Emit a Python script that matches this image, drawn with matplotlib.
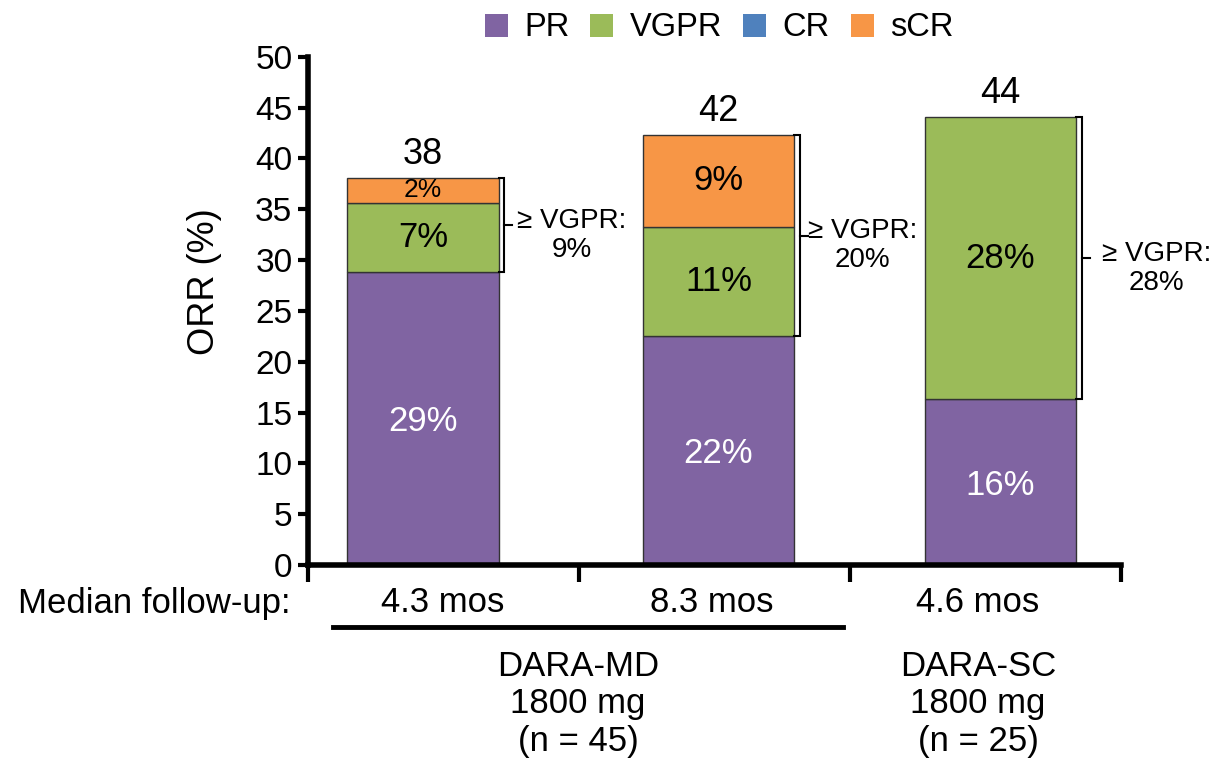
import numpy as np
import matplotlib.pyplot as plt
from matplotlib.patches import Patch

plt.rcParams['font.family'] = ['Liberation Sans', 'DejaVu Sans']

# data
groups = ["4.3 mos", "8.3 mos", "4.6 mos"]
pr = [28.8, 22.5, 16.3]
vgpr = [6.8, 10.8, 27.8]
cr = [0.0, 0.0, 0.0]
scr = [2.5, 9.0, 0.0]
totals = ["38", "42", "44"]
pr_lbl = ["29%", "22%", "16%"]
vgpr_lbl = ["7%", "11%", "28%"]
scr_lbl = ["2%", "9%", ""]
ge_vgpr = ["9%", "20%", "28%"]

colors = {"PR": "#8064A2", "VGPR": "#9BBB59", "CR": "#4F81BD", "sCR": "#F79646"}

xpos = np.array([0.425, 1.515, 2.555])
width = 0.56
txt_off = [0.25, 0.23, 0.275]

fig = plt.figure(figsize=(12.16, 7.63), dpi=100)
ax = fig.add_axes([0.253, 0.2595, 0.669, 0.666])

pr = np.array(pr); vgpr = np.array(vgpr); cr = np.array(cr); scr = np.array(scr)
ax.bar(xpos, pr, width, color=colors["PR"], edgecolor="#333333", linewidth=1)
ax.bar(xpos, vgpr, width, bottom=pr, color=colors["VGPR"], edgecolor="#333333", linewidth=1)
ax.bar(xpos, cr, width, bottom=pr + vgpr, color=colors["CR"], edgecolor="#333333", linewidth=0)
top = pr + vgpr + cr
has_scr = scr > 0
ax.bar(xpos[has_scr], scr[has_scr], width, bottom=top[has_scr], color=colors["sCR"],
       edgecolor="#333333", linewidth=1)
top = top + scr

for i, x in enumerate(xpos):
    ax.text(x, pr[i] / 2 - 0.3, pr_lbl[i], ha="center", va="center", color="white", fontsize=25)
    ax.text(x, pr[i] + vgpr[i] / 2, vgpr_lbl[i], ha="center", va="center", color="black", fontsize=25)
    if scr_lbl[i]:
        fs = 19 if scr[i] < 4 else 25
        ax.text(x, pr[i] + vgpr[i] + scr[i] / 2, scr_lbl[i], ha="center", va="center",
                color="black", fontsize=fs)
    ax.text(x, top[i] + 0.6, totals[i], ha="center", va="bottom", fontsize=26)

    # bracket for >= VGPR
    lo, hi = pr[i], top[i]
    bx = x + width / 2 + 0.02
    ax.plot([bx - 0.02, bx, bx, bx - 0.02], [lo, lo, hi, hi], color="black", lw=1.5,
            clip_on=False, solid_joinstyle="miter")
    mid = (lo + hi) / 2
    ax.plot([bx, bx + 0.03], [mid, mid], color="black", lw=1.5, clip_on=False)
    ax.text(bx + txt_off[i], mid - 1.0, "\u2265 VGPR:\n" + ge_vgpr[i], ha="center", va="center",
            fontsize=20, linespacing=1.15)

ax.set_xlim(0, 3)
ax.set_ylim(0, 50)
ax.set_yticks(np.arange(0, 51, 5))
ax.set_xticks([0, 1, 2, 3])
ax.set_xticklabels([])
ax.tick_params(axis="y", labelsize=24, width=3, length=7, direction="out", pad=4)
ax.tick_params(axis="x", width=3, length=12, direction="out")
for s in ["top", "right"]:
    ax.spines[s].set_visible(False)
ax.spines["left"].set_linewidth(4)
ax.spines["bottom"].set_linewidth(4)
ax.set_ylabel("ORR (%)", fontsize=26)
ax.yaxis.set_label_coords((222 - 308) / (0.669 * 1216), (565 - 282) / (0.666 * 763))

# below-axis labels
fig.text(290 / 1216, 1 - 603 / 763, "Median follow-up:", ha="right", va="center", fontsize=25)
for gx, g in zip([443, 712, 978], groups):
    fig.text(gx / 1216, 1 - 603 / 763, g, ha="center", va="center", fontsize=25)
fig.add_artist(plt.Line2D([333 / 1216, 843 / 1216], [1 - 627 / 763, 1 - 627 / 763],
                          color="black", lw=3.5))
fig.text(578 / 1216, 1 - 704 / 763, "DARA-MD\n1800 mg\n(n = 45)", ha="center", va="center",
         fontsize=25, linespacing=1.18)
fig.text(978 / 1216, 1 - 704 / 763, "DARA-SC\n1800 mg\n(n = 25)", ha="center", va="center",
         fontsize=25, linespacing=1.18)

handles = [Patch(facecolor=c, edgecolor="none", label=k) for k, c in colors.items()]
fig.legend(handles=handles, loc="center", bbox_to_anchor=(719 / 1216, 1 - 28 / 763), ncol=4,
           frameon=False, fontsize=23.5, handlelength=0.7, handleheight=0.7,
           columnspacing=0.65, handletextpad=0.5)

fig.savefig("out.png", dpi=100)
